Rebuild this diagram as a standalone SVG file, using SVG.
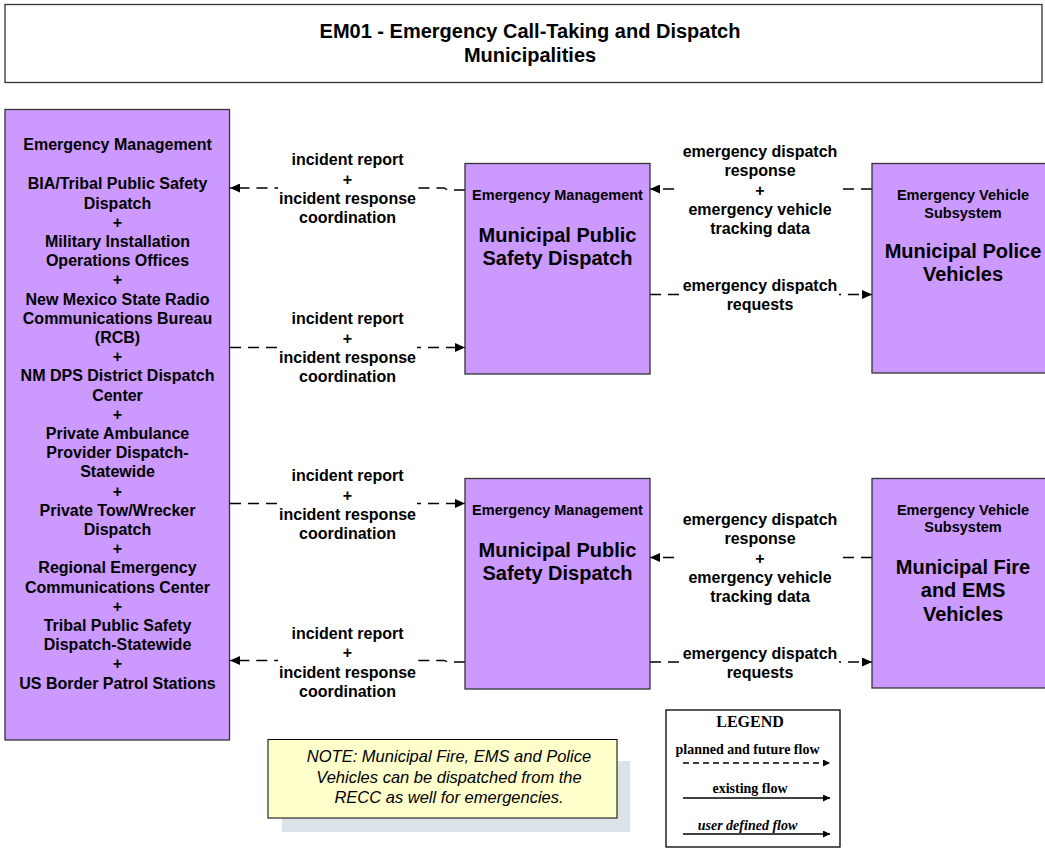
<svg xmlns="http://www.w3.org/2000/svg" width="1045" height="848" viewBox="0 0 1045 848">
<style>
.box{fill:#CC99FF;stroke:#333;stroke-width:1.3}
.t{font-family:"Liberation Sans",Arial,sans-serif;font-weight:bold;text-anchor:middle;fill:#000}
.s16{font-size:16px}
.s14{font-size:14.5px}
.s20{font-size:20px}
.flow{fill:none;stroke:#000;stroke-width:1.3;stroke-dasharray:11 7}
.bg{fill:#fff}
.note{font-family:"Liberation Sans",Arial,sans-serif;font-style:italic;font-size:16.5px;text-anchor:middle;fill:#000}
.lg{font-family:"Liberation Serif","Times New Roman",serif;font-weight:bold;font-size:14px;text-anchor:middle;fill:#000}
.lgh{font-size:16px}
</style>
<defs>
<marker id="arr" markerUnits="userSpaceOnUse" markerWidth="11" markerHeight="9" refX="10" refY="4.5" orient="auto"><path d="M0,0 L10,4.5 L0,9 z" fill="#000"/></marker>
<marker id="arrs" markerUnits="userSpaceOnUse" markerWidth="8" markerHeight="7" refX="7" refY="3.5" orient="auto"><path d="M0,0 L7,3.5 L0,7 z" fill="#000"/></marker>
</defs>
<rect x="0" y="0" width="1045" height="848" fill="#fff"/>

<g id="title">
<rect x="5" y="4.5" width="1037" height="78" fill="#fff" stroke="#333" stroke-width="1.3"/>
<text class="t s20" x="530" y="37.5">EM01 - Emergency Call-Taking and Dispatch</text>
<text class="t s20" x="530" y="62">Municipalities</text>
</g>

<g id="connectors">
<path class="flow" d="M465,190 L448,190 L444,188 L230,188" marker-end="url(#arr)"/>
<path class="flow" d="M230,347.5 L465,347.5" marker-end="url(#arr)"/>
<path class="flow" d="M230,503.5 L465,503.5" marker-end="url(#arr)"/>
<path class="flow" d="M465,662 L448,662 L444,660.5 L230,660.5" marker-end="url(#arr)"/>
<path class="flow" d="M872,189 L650,189" marker-end="url(#arr)"/>
<path class="flow" d="M650,294.5 L872,294.5" marker-end="url(#arr)"/>
<path class="flow" d="M872,557.5 L650,557.5" marker-end="url(#arr)"/>
<path class="flow" d="M650,662 L872,662" marker-end="url(#arr)"/>

<g id="lbl1"><rect class="bg" x="278" y="150" width="139" height="77"/>
<text class="t s16" x="347.5" y="165">incident report</text><text class="t s16" x="347.5" y="184.5">+</text><text class="t s16" x="347.5" y="204">incident response</text><text class="t s16" x="347.5" y="223">coordination</text></g>
<g id="lbl2"><rect class="bg" x="278" y="309" width="139" height="78"/>
<text class="t s16" x="347.5" y="324">incident report</text><text class="t s16" x="347.5" y="343.5">+</text><text class="t s16" x="347.5" y="363">incident response</text><text class="t s16" x="347.5" y="382">coordination</text></g>
<g id="lbl3"><rect class="bg" x="278" y="466" width="139" height="78"/>
<text class="t s16" x="347.5" y="481">incident report</text><text class="t s16" x="347.5" y="500.5">+</text><text class="t s16" x="347.5" y="520">incident response</text><text class="t s16" x="347.5" y="539">coordination</text></g>
<g id="lbl4"><rect class="bg" x="278" y="623" width="139" height="78"/>
<text class="t s16" x="347.5" y="638.5">incident report</text><text class="t s16" x="347.5" y="658">+</text><text class="t s16" x="347.5" y="677.5">incident response</text><text class="t s16" x="347.5" y="696.5">coordination</text></g>
<g id="lbl5"><rect class="bg" x="681" y="142" width="158" height="97"/>
<text class="t s16" x="760" y="157">emergency dispatch</text><text class="t s16" x="760" y="176">response</text><text class="t s16" x="760" y="195.5">+</text><text class="t s16" x="760" y="215">emergency vehicle</text><text class="t s16" x="760" y="234">tracking data</text></g>
<g id="lbl6"><rect class="bg" x="681" y="276" width="158" height="38"/>
<text class="t s16" x="760" y="290.5">emergency dispatch</text><text class="t s16" x="760" y="309.5">requests</text></g>
<g id="lbl7"><rect class="bg" x="681" y="510" width="158" height="97"/>
<text class="t s16" x="760" y="525">emergency dispatch</text><text class="t s16" x="760" y="544">response</text><text class="t s16" x="760" y="563.5">+</text><text class="t s16" x="760" y="583">emergency vehicle</text><text class="t s16" x="760" y="602">tracking data</text></g>
<g id="lbl8"><rect class="bg" x="681" y="644" width="158" height="38"/>
<text class="t s16" x="760" y="658.5">emergency dispatch</text><text class="t s16" x="760" y="677.5">requests</text></g>
</g>

<g id="em-left">
<rect class="box" x="5" y="109.5" width="224.5" height="630.5"/>
<text class="t s16" x="117.5" y="150">Emergency Management</text>
<text class="t s16" x="117.5" y="189.4">BIA/Tribal Public Safety</text>
<text class="t s16" x="117.5" y="208.6">Dispatch</text>
<text class="t s16" x="117.5" y="227.8">+</text>
<text class="t s16" x="117.5" y="247">Military Installation</text>
<text class="t s16" x="117.5" y="266.2">Operations Offices</text>
<text class="t s16" x="117.5" y="285.4">+</text>
<text class="t s16" x="117.5" y="304.6">New Mexico State Radio</text>
<text class="t s16" x="117.5" y="323.8">Communications Bureau</text>
<text class="t s16" x="117.5" y="343">(RCB)</text>
<text class="t s16" x="117.5" y="362.2">+</text>
<text class="t s16" x="117.5" y="381.4">NM DPS District Dispatch</text>
<text class="t s16" x="117.5" y="400.6">Center</text>
<text class="t s16" x="117.5" y="419.8">+</text>
<text class="t s16" x="117.5" y="439">Private Ambulance</text>
<text class="t s16" x="117.5" y="458.2">Provider Dispatch-</text>
<text class="t s16" x="117.5" y="477.4">Statewide</text>
<text class="t s16" x="117.5" y="496.6">+</text>
<text class="t s16" x="117.5" y="515.8">Private Tow/Wrecker</text>
<text class="t s16" x="117.5" y="535">Dispatch</text>
<text class="t s16" x="117.5" y="554.2">+</text>
<text class="t s16" x="117.5" y="573.4">Regional Emergency</text>
<text class="t s16" x="117.5" y="592.6">Communications Center</text>
<text class="t s16" x="117.5" y="611.8">+</text>
<text class="t s16" x="117.5" y="631">Tribal Public Safety</text>
<text class="t s16" x="117.5" y="650.2">Dispatch-Statewide</text>
<text class="t s16" x="117.5" y="669.4">+</text>
<text class="t s16" x="117.5" y="688.6">US Border Patrol Stations</text>
</g>

<g id="mpsd-1">
<rect class="box" x="465" y="163.5" width="185" height="210.5"/>
<text class="t s14" x="557.5" y="200">Emergency Management</text>
<text class="t s20" x="557.5" y="241.5">Municipal Public</text>
<text class="t s20" x="557.5" y="265">Safety Dispatch</text>
</g>

<g id="mpsd-2">
<rect class="box" x="465" y="478.5" width="185" height="210.5"/>
<text class="t s14" x="557.5" y="515">Emergency Management</text>
<text class="t s20" x="557.5" y="556.5">Municipal Public</text>
<text class="t s20" x="557.5" y="580">Safety Dispatch</text>
</g>

<g id="police">
<rect class="box" x="872" y="163.5" width="185" height="209.5"/>
<text class="t s14" x="963" y="200">Emergency Vehicle</text>
<text class="t s14" x="963" y="218">Subsystem</text>
<text class="t s20" x="963" y="258">Municipal Police</text>
<text class="t s20" x="963" y="281">Vehicles</text>
</g>

<g id="fire-ems">
<rect class="box" x="872" y="478.5" width="185" height="209.5"/>
<text class="t s14" x="963" y="515">Emergency Vehicle</text>
<text class="t s14" x="963" y="532">Subsystem</text>
<text class="t s20" x="963" y="573.5">Municipal Fire</text>
<text class="t s20" x="963" y="597">and EMS</text>
<text class="t s20" x="963" y="621">Vehicles</text>
</g>

<g id="note">
<rect x="282" y="761" width="348" height="71" fill="#DCE3E8"/>
<rect x="268" y="739.5" width="349" height="78.5" fill="#FFFFCC" stroke="#000" stroke-width="1"/>
<text class="note" x="449" y="762">NOTE: Municipal Fire, EMS and Police</text>
<text class="note" x="449" y="782.5">Vehicles can be dispatched from the</text>
<text class="note" x="449" y="803">RECC as well for emergencies.</text>
</g>

<g id="legend">
<rect x="666" y="710" width="174" height="137" fill="#fff" stroke="#000" stroke-width="1.3"/>
<text class="lg lgh" x="750" y="727">LEGEND</text>
<text class="lg" x="747.5" y="754">planned and future flow</text>
<path d="M683,763 L830,763" stroke="#000" stroke-width="1.3" stroke-dasharray="6 4" fill="none" marker-end="url(#arrs)"/>
<text class="lg" x="750" y="793">existing flow</text>
<path d="M683,798 L830,798" stroke="#000" stroke-width="1.3" fill="none" marker-end="url(#arrs)"/>
<text class="lg" x="747.5" y="829.5" font-style="italic">user defined flow</text>
<path d="M683,834 L830,834" stroke="#000" stroke-width="1.3" fill="none" marker-end="url(#arrs)"/>
</g>
</svg>
